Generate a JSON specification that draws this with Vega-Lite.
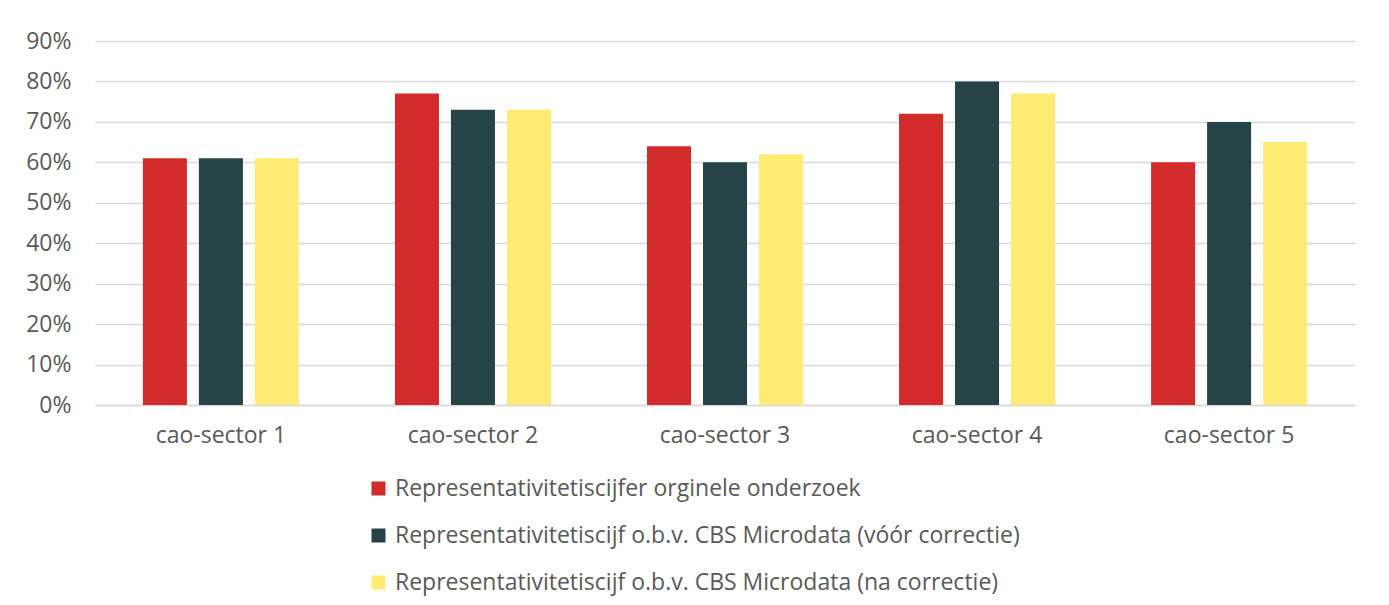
{
  "$schema": "https://vega.github.io/schema/vega-lite/v6.json",
  "width": 1260,
  "height": 364,
  "autosize": {"type": "none"},
  "padding": {"left": 95, "top": 41, "right": 34, "bottom": 200},
  "background": "white",
  "config": {
    "font": "Open Sans",
    "view": {"stroke": null},
    "axis": {"labelFont": "Open Sans", "labelColor": "#595959", "labelFontSize": 23, "gridColor": "#d9d9d9", "gridWidth": 1.5, "domainColor": "#d9d9d9", "domainWidth": 1.5, "ticks": false, "title": null, "labelOverlap": false, "labelFlush": false},
    "legend": {"labelFont": "Open Sans", "labelColor": "#595959", "labelFontSize": 23}
  },
  "data": {
    "values": [
      {"sector": "cao-sector 1", "reeks": "Representativitetiscijfer orginele onderzoek", "waarde": 0.61},
      {"sector": "cao-sector 1", "reeks": "Representativitetiscijf o.b.v. CBS Microdata (vóór correctie)", "waarde": 0.61},
      {"sector": "cao-sector 1", "reeks": "Representativitetiscijf o.b.v. CBS Microdata (na correctie)", "waarde": 0.61},
      {"sector": "cao-sector 2", "reeks": "Representativitetiscijfer orginele onderzoek", "waarde": 0.77},
      {"sector": "cao-sector 2", "reeks": "Representativitetiscijf o.b.v. CBS Microdata (vóór correctie)", "waarde": 0.73},
      {"sector": "cao-sector 2", "reeks": "Representativitetiscijf o.b.v. CBS Microdata (na correctie)", "waarde": 0.73},
      {"sector": "cao-sector 3", "reeks": "Representativitetiscijfer orginele onderzoek", "waarde": 0.64},
      {"sector": "cao-sector 3", "reeks": "Representativitetiscijf o.b.v. CBS Microdata (vóór correctie)", "waarde": 0.60},
      {"sector": "cao-sector 3", "reeks": "Representativitetiscijf o.b.v. CBS Microdata (na correctie)", "waarde": 0.62},
      {"sector": "cao-sector 4", "reeks": "Representativitetiscijfer orginele onderzoek", "waarde": 0.72},
      {"sector": "cao-sector 4", "reeks": "Representativitetiscijf o.b.v. CBS Microdata (vóór correctie)", "waarde": 0.80},
      {"sector": "cao-sector 4", "reeks": "Representativitetiscijf o.b.v. CBS Microdata (na correctie)", "waarde": 0.77},
      {"sector": "cao-sector 5", "reeks": "Representativitetiscijfer orginele onderzoek", "waarde": 0.60},
      {"sector": "cao-sector 5", "reeks": "Representativitetiscijf o.b.v. CBS Microdata (vóór correctie)", "waarde": 0.70},
      {"sector": "cao-sector 5", "reeks": "Representativitetiscijf o.b.v. CBS Microdata (na correctie)", "waarde": 0.65}
    ]
  },
  "mark": {"type": "bar"},
  "encoding": {
    "x": {
      "field": "sector", "type": "nominal", "sort": null,
      "scale": {"paddingInner": 0.381, "paddingOuter": 0.19},
      "axis": {"labelAngle": 0, "labelPadding": 19, "grid": false, "domain": true}
    },
    "xOffset": {
      "field": "reeks", "type": "nominal",
      "sort": ["Representativitetiscijfer orginele onderzoek", "Representativitetiscijf o.b.v. CBS Microdata (vóór correctie)", "Representativitetiscijf o.b.v. CBS Microdata (na correctie)"],
      "scale": {"paddingInner": 0.214, "paddingOuter": 0}
    },
    "y": {
      "field": "waarde", "type": "quantitative",
      "scale": {"domain": [0, 0.9], "nice": false},
      "axis": {"format": ".0%", "values": [0, 0.1, 0.2, 0.3, 0.4, 0.5, 0.6, 0.7, 0.8, 0.9], "domain": false, "labelPadding": 24, "grid": true}
    },
    "color": {
      "field": "reeks", "type": "nominal",
      "sort": ["Representativitetiscijfer orginele onderzoek", "Representativitetiscijf o.b.v. CBS Microdata (vóór correctie)", "Representativitetiscijf o.b.v. CBS Microdata (na correctie)"],
      "scale": {"range": ["#d32b2b", "#264348", "#fdeb73"]},
      "legend": {
        "title": null, "orient": "none", "direction": "vertical",
        "legendX": 272, "legendY": 436,
        "symbolType": "square", "symbolSize": 196, "symbolStrokeWidth": 0,
        "labelOffset": 5, "rowPadding": 23, "labelLimit": 800
      }
    }
  }
}
